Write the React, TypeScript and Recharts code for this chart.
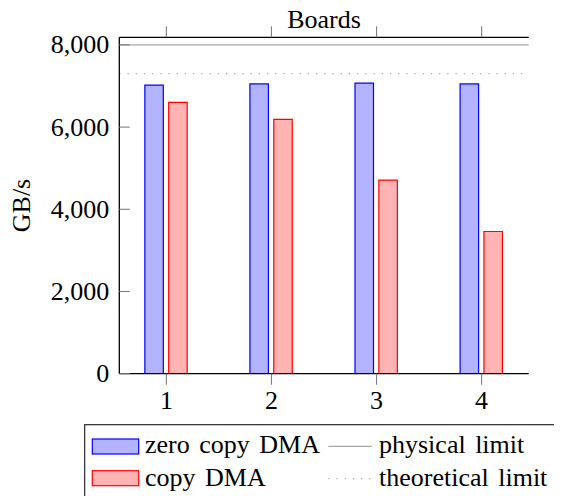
import React from 'react';
import { BarChart, Bar, XAxis, YAxis, ReferenceLine } from 'recharts';

// values
const boards = [1, 2, 3, 4];
const zeroCopyDma = [7020, 7050, 7070, 7050];
const copyDma = [6600, 6190, 4710, 3460];
const yTicks = [0, 2000, 4000, 6000, 8000];
const physicalLimit = 8000;
const theoreticalLimit = 7300;

const barSeries = [
  { key: 'zero', name: 'zero copy DMA', fill: '#b3b3ff', stroke: '#0000ff' },
  { key: 'copy', name: 'copy DMA', fill: '#ffb3b3', stroke: '#ff0000' },
];
const limitSeries = [
  { name: 'physical limit', dash: undefined },
  { name: 'theoretical limit', dash: '1.2 7' },
];

const data = boards.map((b, i) => ({ board: b, zero: zeroCopyDma[i], copy: copyDma[i] }));

const FONT = 'Liberation Serif, Times New Roman, serif';
const W = 554;
const H = 488;
const TOP_AXIS_H = 1;
const MARGIN = { top: 29.3 - TOP_AXIS_H, right: 33.3, left: 41.3, bottom: 82.3 };
const X_DOMAIN: [number, number] = [0.552, 4.448];
const Y_DOMAIN: [number, number] = [0, 8185];
const TICK = '#7f7f7f';
const LIMIT = '#a6a6a6';

const fmt = (v: number) => v.toLocaleString('en-US');

const NoTick = () => <g />;

// left ticks point into the plot, label sits outside
const LeftTick = (props: any) => {
  const { x, y, payload } = props;
  return (
    <g>
      <line x1={x + 10} x2={x + 20.5} y1={y} y2={y} stroke={TICK} strokeWidth={1.1} />
      <text x={x} y={y} dy={8.5} textAnchor="end" fontSize={26} fontFamily={FONT} fill="#000">
        {fmt(payload.value)}
      </text>
    </g>
  );
};

const TitleLabel = (props: any) => {
  const vb = props.viewBox || {};
  return (
    <text x={vb.x + vb.width / 2} y={vb.y + vb.height - 9} textAnchor="middle" fontSize={26} fontFamily={FONT} fill="#000">
      Boards
    </text>
  );
};

const YLabel = (props: any) => {
  const vb = props.viewBox || {};
  const cx = vb.x - 19.3;
  const cy = vb.y + vb.height / 2;
  return (
    <text x={cx} y={cy} transform={`rotate(-90 ${cx} ${cy})`} textAnchor="middle" fontSize={26} fontFamily={FONT} fill="#000">
      GB/s
    </text>
  );
};

const LegendBox = () => (
  <svg style={{ position: 'absolute', left: 76, top: 416.3 }} width={478} height={80}>
    <rect x={0.65} y={0.65} width={475.5} height={100} fill="#fff" stroke="#3a3a3a" strokeWidth={1.3} />
    {barSeries.map((s, i) => (
      <g key={s.key}>
        <rect x={8.3} y={15 + 31.7 * i} width={46.4} height={15} fill={s.fill} stroke={s.stroke} strokeWidth={1.2} />
        <text x={61} y={29 + 32.7 * i} fontSize={26} fontFamily={FONT} wordSpacing={3} fill="#000">
          {s.name}
        </text>
      </g>
    ))}
    {limitSeries.map((s, i) => (
      <g key={s.name}>
        <line x1={244.3} x2={287.7} y1={22.4 + 32.3 * i} y2={22.4 + 32.3 * i} stroke={LIMIT} strokeWidth={1.2} strokeDasharray={s.dash} />
        <text x={295} y={29 + 32.7 * i} fontSize={26} fontFamily={FONT} wordSpacing={3} fill="#000">
          {s.name}
        </text>
      </g>
    ))}
  </svg>
);

export default function App() {
  return (
    <div style={{ position: 'relative', width: W, height: H, fontFamily: FONT }}>
      <BarChart width={W} height={H} data={data} margin={MARGIN} barGap={5.35}>
        <XAxis
          dataKey="board"
          type="number"
          domain={X_DOMAIN}
          ticks={boards}
          allowDataOverflow
          height={40}
          tickSize={11}
          tickMargin={6}
          axisLine={{ stroke: '#000', strokeWidth: 1.3 }}
          tickLine={{ stroke: TICK, strokeWidth: 1.1 }}
          tick={{ fontSize: 26, fontFamily: FONT, fill: '#000' }}
        />
        <XAxis
          xAxisId="top"
          dataKey="board"
          orientation="top"
          type="number"
          domain={X_DOMAIN}
          ticks={boards}
          allowDataOverflow
          height={TOP_AXIS_H}
          tickSize={11}
          axisLine={{ stroke: '#000', strokeWidth: 1.3 }}
          tickLine={{ stroke: TICK, strokeWidth: 1.1 }}
          tick={NoTick}
          label={{ content: TitleLabel }}
        />
        <YAxis
          type="number"
          domain={Y_DOMAIN}
          ticks={yTicks}
          allowDataOverflow
          width={70}
          tickSize={0}
          tickMargin={10}
          axisLine={{ stroke: '#000', strokeWidth: 1.3 }}
          tickLine={false}
          tick={LeftTick}
          label={{ content: YLabel }}
        />
        <YAxis
          yAxisId="right"
          orientation="right"
          type="number"
          domain={Y_DOMAIN}
          ticks={yTicks}
          allowDataOverflow
          width={0}
          mirror
          tickSize={10.5}
          axisLine={{ stroke: '#000', strokeWidth: 1.3 }}
          tickLine={{ stroke: TICK, strokeWidth: 1.1 }}
          tick={NoTick}
        />
        <ReferenceLine y={physicalLimit} stroke={LIMIT} strokeWidth={1.2} />
        <ReferenceLine y={theoreticalLimit} stroke={LIMIT} strokeWidth={1.2} strokeDasharray="1.2 7" />
        {barSeries.map((s) => (
          <Bar
            key={s.key}
            dataKey={s.key}
            name={s.name}
            fill={s.fill}
            stroke={s.stroke}
            strokeWidth={1.2}
            barSize={18.5}
            isAnimationActive={false}
          />
        ))}
      </BarChart>
      <LegendBox />
    </div>
  );
}
